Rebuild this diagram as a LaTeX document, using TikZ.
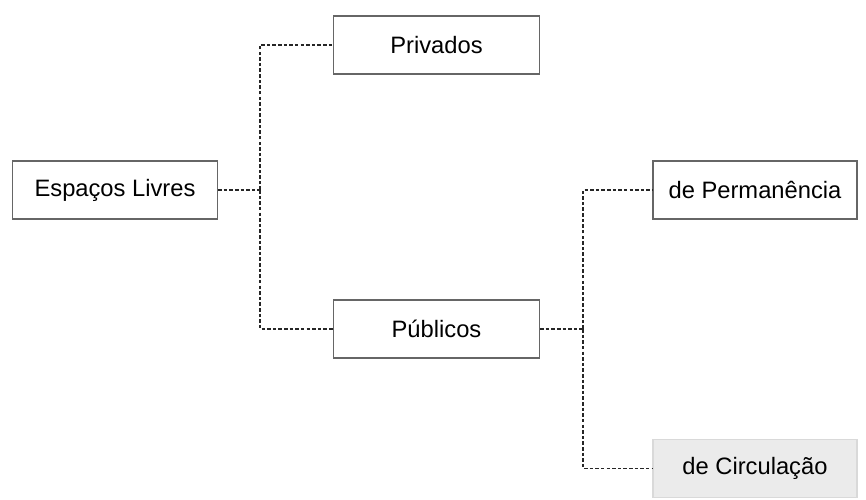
\documentclass[tikz,border=0pt]{standalone}
\usepackage{fontspec}
\setmainfont{Liberation Sans}
\usetikzlibrary{positioning}

\begin{document}
\begin{tikzpicture}[
    box/.style={draw=black!60, fill=white, line width=0.7pt, minimum width=#1, minimum height=1.16cm, font=\fontsize{13.5}{16}\selectfont, align=center},
    box/.default=4.12cm,
    greybox/.style={box, draw=black!15, fill=black!8},
    link/.style={draw=black!85, line width=0.8pt, dash pattern=on 2pt off 1.2pt},
]
\useasboundingbox (0,0) rectangle (17.32,-9.98);

% root
\node[box=4.10cm] (livres) at (2.30, -3.80) {Espaços Livres};

% first level
\node[box] (privados) at (8.73, -0.90) {Privados};
\node[box] (publicos) at (8.73, -6.58) {Públicos};

% second level
\node[box=4.08cm] (permanencia) at (15.10, -3.80) {de Permanência};
\node[greybox, minimum width=4.08cm] (circulacao) at (15.10, -9.37) {de Circulação};

% connectors
\coordinate (j1) at (5.20, -3.80);
\coordinate (j2) at (11.66, -6.58);

\draw[link] (livres) -- (j1);
\draw[link] (j1) |- (privados);
\draw[link] (j1) |- (publicos);

\draw[link] (publicos) -- (j2);
\draw[link] (j2) |- (permanencia);
\draw[link] (j2) |- (circulacao);

\end{tikzpicture}
\end{document}
